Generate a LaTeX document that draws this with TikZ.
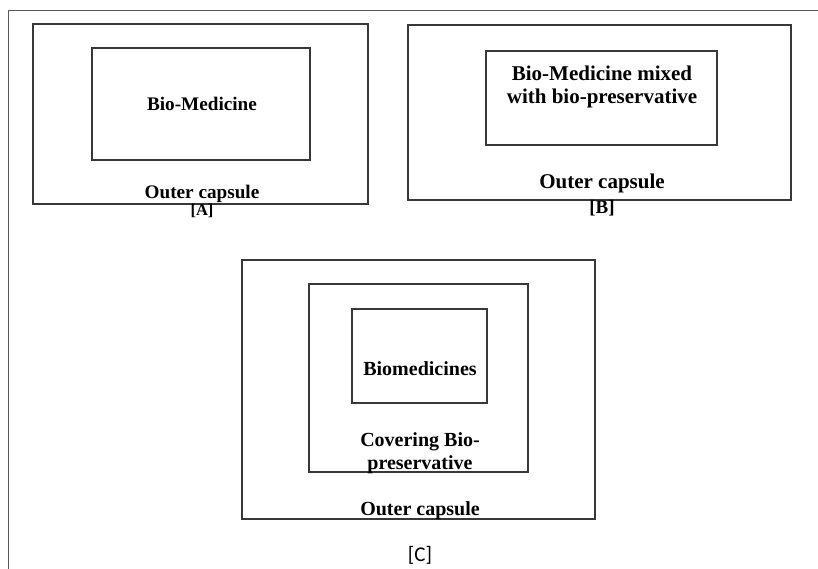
\documentclass[tikz,border=0pt]{standalone}
\usepackage{fontspec}
\setmainfont{Liberation Serif}
\newfontfamily\calib{Carlito}
\begin{document}
\begin{tikzpicture}[x=1pt,y=-1pt,
  capbox/.style={draw=black!78, line width=1.6pt, rectangle, inner sep=0pt},
  lblA/.style={anchor=base, inner sep=0pt, font=\fontsize{19.2}{23}\selectfont\bfseries},
  lblB/.style={anchor=base, inner sep=0pt, font=\fontsize{21}{23}\selectfont\bfseries},
  lblC/.style={anchor=base, inner sep=0pt, font=\fontsize{20}{23}\selectfont\bfseries},
  framel/.style={draw=black!65, line width=1.1pt}]
\useasboundingbox (0,0) rectangle (818,569);
% outer frame
\coordinate (fTR) at (818,10.5);
\coordinate (fTL) at (8.5,10.5);
\coordinate (fBL) at (8.5,569);
\draw[framel] (fTR) -- (fTL) -- (fBL);
% [A]
\node[capbox, minimum width=335, minimum height=180] (Aout) at (200.5,114) {};
\node[capbox, minimum width=218, minimum height=112] (Ain) at (201,104) {};
\node[lblA] (Atext) at (202,111) {Bio-Medicine};
\node[lblA] (Acap) at (202,199) {Outer capsule};
\node[anchor=base, inner sep=0pt, font=\fontsize{16.5}{20}\selectfont\bfseries] (Alab) at (202,215.5) {[A]};
% [B]
\node[capbox, minimum width=383, minimum height=175] (Bout) at (599.5,112.5) {};
\node[capbox, minimum width=231, minimum height=94] (Bin) at (601.5,98) {};
\node[lblB] (Btext1) at (602,81) {Bio-Medicine mixed};
\node[lblB] (Btext2) at (602,104) {with bio-preservative};
\node[lblB] (Bcap) at (602,189) {Outer capsule};
\node[anchor=base, inner sep=0pt, font=\fontsize{19}{22}\selectfont\bfseries] (Blab) at (602,213.5) {[B]};
% [C]
\node[capbox, minimum width=353, minimum height=259] (Cout) at (418.5,389.5) {};
\node[capbox, minimum width=219, minimum height=188] (Cmid) at (418.5,378) {};
\node[capbox, minimum width=135, minimum height=94] (Cin) at (419.5,356) {};
\node[lblC] (Ctext) at (420,375) {Biomedicines};
\node[lblC] (Ccov1) at (420,446) {Covering Bio-};
\node[lblC] (Ccov2) at (420,469) {preservative};
\node[lblC] (Ccap) at (420,515) {Outer capsule};
\node[anchor=base, inner sep=0pt, font=\fontsize{21}{23}\calib] (Clab) at (420,561.5) {[C]};
\end{tikzpicture}
\end{document}
